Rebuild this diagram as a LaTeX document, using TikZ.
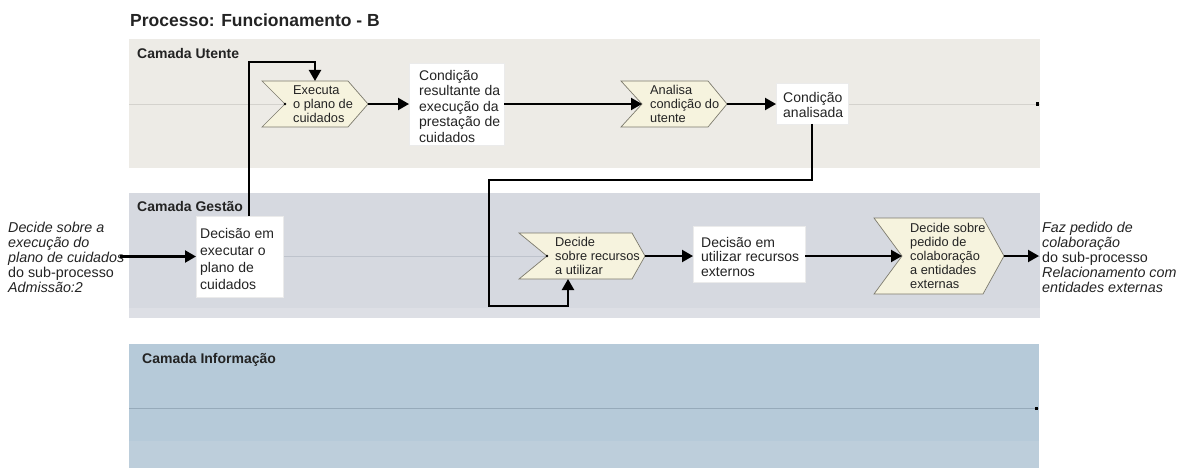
\documentclass[tikz,border=0pt]{standalone}
\usepackage{fontspec}
\setmainfont{Liberation Sans}
\usetikzlibrary{arrows.meta}

\definecolor{laneU}{RGB}{237,235,230}
\definecolor{laneUline}{RGB}{212,210,205}
\definecolor{laneG}{RGB}{214,217,224}
\definecolor{laneGline}{RGB}{190,195,204}
\definecolor{laneGband}{RGB}{221,223,229}
\definecolor{laneI}{RGB}{182,202,217}
\definecolor{laneIline}{RGB}{150,170,186}
\definecolor{laneIband}{RGB}{189,206,219}
\definecolor{fncream}{RGB}{246,243,222}
\definecolor{fnedge}{RGB}{125,123,110}
\definecolor{ink}{RGB}{35,35,35}

\tikzset{
  flow/.style={line width=2.2pt, -{Triangle[length=11pt,width=12pt]}},
  boxnode/.style={fill=white, draw=black!8, line width=0.5pt, inner sep=0pt, outer sep=0pt},
  fnframe/.style={inner sep=0pt, outer sep=0pt},
  fnpath/.style={fill=fncream, draw=fnedge, line width=0.7pt, line join=miter},
  fnlabel/.style={font=\fontsize{12.8}{14}\selectfont, align=left, inner sep=0pt, text=ink},
  boxlabel/.style={font=\fontsize{14}{15.5}\selectfont, align=left, inner sep=0pt, text=ink, anchor=west},
  lanelabel/.style={font=\bfseries\fontsize{14}{16}\selectfont, anchor=base west, inner sep=0pt, text=ink},
  freelabel/.style={font=\fontsize{14.3}{15}\selectfont, align=left, inner sep=0pt, text=ink, anchor=west},
  enddot/.style={fill=black},
}

% function step: name, left x, top y, tip x, bottom y, tip depth, notch depth, text
\newcommand{\fnstep}[8]{%
  \node[fnframe, minimum width={#4-#2}, minimum height={#5-#3}] (#1) at ({(#2+#4)/2},{(#3+#5)/2}) {};
  \draw[fnpath] (#1.north west) -- ([xshift=-#6]#1.north east) -- (#1.east)
    -- ([xshift=-#6]#1.south east) -- (#1.south west) -- ([xshift=#7]#1.west) -- cycle;
  \coordinate (#1-in) at ([xshift=#7]#1.west);
  \node[fnlabel, anchor=west] (#1-t) at ([xshift=#7+8]#1.west) {#8};
}

\begin{document}
\begin{tikzpicture}[x=1pt,y=-1pt]
\useasboundingbox (0,0) rectangle (1193,468);

% title
\node[anchor=base west, inner sep=0pt, text=ink, font=\bfseries\fontsize{17.5}{20}\selectfont]
  (title) at (130,27) {Processo: Funcionamento - B};

% lanes
\fill[laneU] (129,39) rectangle (1040,168);
\draw[laneUline, line width=0.8pt] (129,104) -- (1040,104);
\fill[laneG] (129,193) rectangle (1040,318);
\fill[laneGband] (129,308) rectangle (1040,318);
\draw[laneGline, line width=0.8pt] (129,256) -- (1040,256);
\fill[laneI] (129,344) rectangle (1039,468);
\fill[laneIband] (129,441) rectangle (1039,468);
\draw[laneIline, line width=0.8pt] (129,408) -- (1039,408);
\fill[enddot] (1035.5,102.5) rectangle (1038.5,106);
\fill[enddot] (1034.5,406.5) rectangle (1037.5,410);

% lane titles
\node[lanelabel] (lu) at (137,58.5) {Camada Utente};
\node[lanelabel] (lg) at (137,211) {Camada Gestão};
\node[lanelabel] (li) at (142,363) {Camada Informação};

% boxes
\node[boxnode, minimum width=95, minimum height=82] (cond1) at (456.5,104) {};
\node[boxlabel] (cond1-t) at (419,106) {Condição\\resultante da\\execução da\\prestação de\\cuidados};
\node[boxnode, minimum width=72, minimum height=41] (cond2) at (812,103.5) {};
\node[boxlabel] (cond2-t) at (783,105) {Condição\\analisada};
\node[boxnode, minimum width=87, minimum height=81] (dexec) at (239.5,256.5) {};
\node[boxlabel, font=\fontsize{14}{17}\selectfont] (dexec-t) at (200,258.5) {Decisão em\\executar o\\plano de\\cuidados};
\node[boxnode, minimum width=112, minimum height=56] (util) at (749,254) {};
\node[boxlabel, font=\fontsize{14}{14.5}\selectfont] (util-t) at (701,256.5) {Decisão em\\utilizar recursos\\externos};

% function steps
\fnstep{exec}{262}{81}{368}{127}{20}{23}{Executa\\o plano de\\cuidados}
\fnstep{analisa}{621}{81}{727}{127}{19}{21}{Analisa\\condição do\\utente}
\fnstep{recursos}{519}{233}{645}{279}{13}{28}{Decide\\sobre recursos\\a utilizar}
\fnstep{pedido}{874}{218}{1004}{294}{21}{28}{Decide sobre\\pedido de\\colaboração\\a entidades\\externas}
\fill[enddot] (exec-in) circle (1.4);
\fill[enddot] (recursos-in) circle (1.4);

% free texts
\node[freelabel] (admissao) at (8,257) {\textit{Decide sobre a}\\\textit{execução do}\\\textit{plano de cuidados}\\do sub-processo\\\textit{Admissão:2}};
\node[freelabel] (relac) at (1042,257) {\textit{Faz pedido de}\\\textit{colaboração}\\do sub-processo\\\textit{Relacionamento com}\\\textit{entidades externas}};

% connectors
\coordinate (ja) at (249,62);
\coordinate (jb) at (489,180);
\coordinate (jc) at (568,306);
\draw[flow, shorten <=-4pt] (admissao.east |- dexec.west) -- (dexec.west);
\draw[flow] (dexec.north -| ja) -- (ja) -| (exec.north);
\draw[flow] (exec.east) -- (exec.east -| cond1.west);
\draw[flow] (cond1.east |- analisa-in) -- (analisa-in);
\draw[flow] (analisa.east) -- (analisa.east -| cond2.west);
\draw[flow] (cond2.south) |- (jb) |- (jc) -- (jc |- recursos.south);
\draw[flow] (recursos.east) -- (recursos.east -| util.west);
\draw[flow] (util.east |- pedido-in) -- (pedido-in);
\draw[flow, shorten >=3pt] (pedido.east) -- (pedido.east -| relac.west);
\end{tikzpicture}
\end{document}
